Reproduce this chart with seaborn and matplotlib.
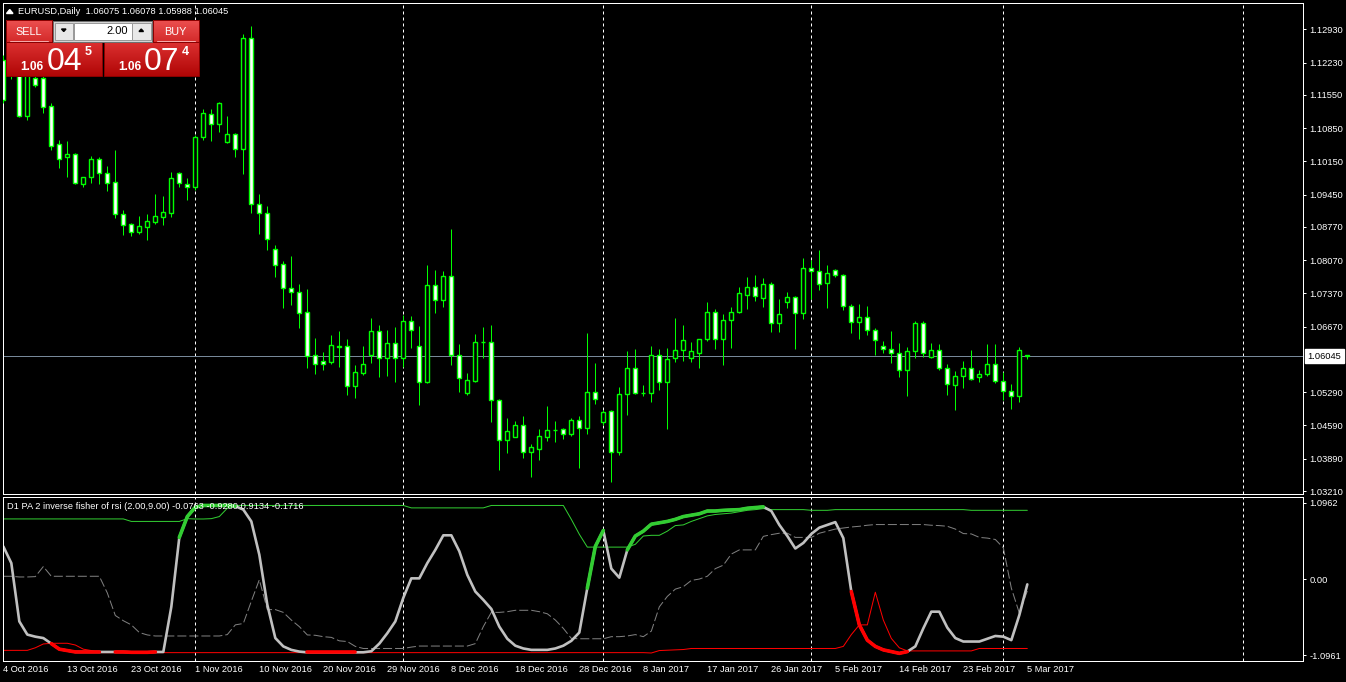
import numpy as np
import matplotlib
matplotlib.use("Agg")
import matplotlib.pyplot as plt
import seaborn as sns
from matplotlib.patches import Rectangle, Polygon
from matplotlib.colors import LinearSegmentedColormap

# ---------------------------------------------------------------------------
# Data (EURUSD daily bars)
# ---------------------------------------------------------------------------
OPEN = [1.1228, 1.1270, 1.1216, 1.1111, 1.1190, 1.1190, 1.1132, 1.1051, 1.1024, 1.1031,
        1.0967, 1.0983, 1.1019, 1.0990, 1.0971, 1.0904, 1.0883, 1.0867, 1.0877, 1.0888,
        1.0898, 1.0907, 1.0990, 1.0967, 1.0960, 1.1066, 1.1114, 1.1093, 1.1055, 1.1072,
        1.1040, 1.1274, 1.0925, 1.0906, 1.0830, 1.0798, 1.0748, 1.0741, 1.0697, 1.0607,
        1.0594, 1.0593, 1.0626, 1.0626, 1.0543, 1.0569, 1.0608, 1.0657, 1.0600, 1.0632,
        1.0602, 1.0678, 1.0626, 1.0551, 1.0754, 1.0723, 1.0773, 1.0607, 1.0528, 1.0553,
        1.0635, 1.0634, 1.0512, 1.0429, 1.0435, 1.0461, 1.0403, 1.0410, 1.0435, 1.0450,
        1.0451, 1.0440, 1.0470, 1.0454, 1.0529, 1.0466, 1.0489, 1.0403, 1.0525, 1.0579,
        1.0528, 1.0527, 1.0607, 1.0550, 1.0600, 1.0617, 1.0600, 1.0612, 1.0640, 1.0697,
        1.0640, 1.0680, 1.0697, 1.0734, 1.0750, 1.0728, 1.0756, 1.0674, 1.0718, 1.0729,
        1.0695, 1.0790, 1.0784, 1.0758, 1.0786, 1.0775, 1.0710, 1.0676, 1.0687, 1.0661,
        1.0626, 1.0621, 1.0611, 1.0575, 1.0615, 1.0674, 1.0604, 1.0617, 1.0581, 1.0544,
        1.0563, 1.0579, 1.0560, 1.0567, 1.0588, 1.0552, 1.0531, 1.0520, 1.06075]
HIGH = [1.1239, 1.1281, 1.1228, 1.1207, 1.1203, 1.1195, 1.1138, 1.1060, 1.1058, 1.1033,
        1.0983, 1.1026, 1.1024, 1.1005, 1.1039, 1.0913, 1.0886, 1.0900, 1.0904, 1.0946,
        1.0942, 1.0992, 1.0993, 1.0981, 1.1070, 1.1125, 1.1125, 1.1141, 1.1111, 1.1075,
        1.1283, 1.1300, 1.0946, 1.0920, 1.0839, 1.0805, 1.0816, 1.0757, 1.0746, 1.0644,
        1.0614, 1.0649, 1.0658, 1.0642, 1.0586, 1.0626, 1.0685, 1.0670, 1.0660, 1.0666,
        1.0691, 1.0689, 1.0668, 1.0797, 1.0786, 1.0784, 1.0873, 1.0630, 1.0569, 1.0651,
        1.0666, 1.0670, 1.0515, 1.0474, 1.0469, 1.0479, 1.0420, 1.0452, 1.0500, 1.0468,
        1.0454, 1.0474, 1.0479, 1.0653, 1.0591, 1.0492, 1.0492, 1.0540, 1.0616, 1.0619,
        1.0544, 1.0626, 1.0620, 1.0622, 1.0685, 1.0670, 1.0635, 1.0642, 1.0719, 1.0704,
        1.0694, 1.0708, 1.0750, 1.0772, 1.0776, 1.0769, 1.0760, 1.0725, 1.0740, 1.0731,
        1.0812, 1.0807, 1.0828, 1.0797, 1.0788, 1.0777, 1.0715, 1.0715, 1.0711, 1.0664,
        1.0636, 1.0658, 1.0633, 1.0624, 1.0679, 1.0679, 1.0633, 1.0630, 1.0588, 1.0574,
        1.0595, 1.0618, 1.0576, 1.0630, 1.0630, 1.0572, 1.0546, 1.0624, 1.06078]
LOW = [1.1138, 1.1188, 1.1108, 1.1102, 1.1172, 1.1117, 1.1039, 1.1000, 1.0983, 1.0967,
       1.0962, 1.0970, 1.0968, 1.0953, 1.0895, 1.0859, 1.0858, 1.0863, 1.0849, 1.0883,
       1.0881, 1.0898, 1.0960, 1.0934, 1.0955, 1.1060, 1.1058, 1.1077, 1.1054, 1.1025,
       1.0988, 1.0906, 1.0862, 1.0828, 1.0772, 1.0707, 1.0713, 1.0665, 1.0581, 1.0568,
       1.0576, 1.0588, 1.0583, 1.0523, 1.0517, 1.0565, 1.0591, 1.0562, 1.0563, 1.0551,
       1.0583, 1.0622, 1.0502, 1.0549, 1.0696, 1.0709, 1.0587, 1.0530, 1.0524, 1.0551,
       1.0602, 1.0467, 1.0366, 1.0400, 1.0434, 1.0391, 1.0351, 1.0387, 1.0427, 1.0425,
       1.0431, 1.0437, 1.0370, 1.0442, 1.0505, 1.0460, 1.0339, 1.0397, 1.0481, 1.0525,
       1.0520, 1.0509, 1.0534, 1.0452, 1.0593, 1.0595, 1.0593, 1.0579, 1.0637, 1.0621,
       1.0587, 1.0623, 1.0696, 1.0705, 1.0720, 1.0709, 1.0656, 1.0656, 1.0707, 1.0619,
       1.0684, 1.0726, 1.0745, 1.0707, 1.0771, 1.0703, 1.0654, 1.0640, 1.0649, 1.0607,
       1.0611, 1.0590, 1.0560, 1.0520, 1.0600, 1.0604, 1.0602, 1.0576, 1.0524, 1.0492,
       1.0537, 1.0555, 1.0551, 1.0563, 1.0548, 1.0512, 1.0494, 1.0509, 1.05988]
CLOSE = [1.1144, 1.1199, 1.1111, 1.1199, 1.1176, 1.1130, 1.1048, 1.1021, 1.1031, 1.0969,
         1.0982, 1.1019, 1.0990, 1.0970, 1.0904, 1.0880, 1.0867, 1.0878, 1.0889, 1.0899,
         1.0908, 1.0981, 1.0969, 1.0960, 1.1066, 1.1116, 1.1093, 1.1137, 1.1072, 1.1040,
         1.1274, 1.0925, 1.0906, 1.0851, 1.0796, 1.0748, 1.0739, 1.0696, 1.0606, 1.0588,
         1.0589, 1.0628, 1.0625, 1.0543, 1.0571, 1.0588, 1.0657, 1.0600, 1.0632, 1.0602,
         1.0678, 1.0661, 1.0551, 1.0754, 1.0723, 1.0773, 1.0607, 1.0558, 1.0554, 1.0634,
         1.0634, 1.0512, 1.0428, 1.0447, 1.0461, 1.0403, 1.0413, 1.0436, 1.0449, 1.0449,
         1.0440, 1.0470, 1.0454, 1.0529, 1.0514, 1.0487, 1.0403, 1.0525, 1.0579, 1.0527,
         1.0527, 1.0607, 1.0550, 1.0598, 1.0617, 1.0638, 1.0615, 1.0640, 1.0697, 1.0640,
         1.0680, 1.0697, 1.0737, 1.0750, 1.0731, 1.0756, 1.0674, 1.0693, 1.0729, 1.0695,
         1.0790, 1.0784, 1.0756, 1.0779, 1.0775, 1.0710, 1.0676, 1.0687, 1.0661, 1.0638,
         1.0621, 1.0611, 1.0575, 1.0615, 1.0674, 1.0611, 1.0617, 1.0581, 1.0546, 1.0563,
         1.0581, 1.0556, 1.0567, 1.0588, 1.0552, 1.0531, 1.0520, 1.0617, 1.06045]
BID = 1.06045

# Indicator buffers (inverse fisher of rsi)
MAIN = [0.47, 0.23, -0.61, -0.80, -0.83, -0.85, -0.93, -1.01, -1.03, -1.05,
        -1.05, -1.05, -1.05, -1.05, -1.05, -1.05, -1.055, -1.055, -1.055, -1.05,
        -1.05, -0.40, 0.60, 0.90, 1.035, 1.06, 1.06, 1.06, 1.06, 1.05,
        1.00, 0.83, 0.35, -0.37, -0.85, -0.97, -1.02, -1.045, -1.055, -1.055,
        -1.055, -1.055, -1.055, -1.055, -1.055, -1.055, -1.04, -0.93, -0.78, -0.61,
        -0.27, 0.01, 0.01, 0.23, 0.42, 0.63, 0.63, 0.40, 0.06, -0.18,
        -0.30, -0.43, -0.685, -0.86, -0.96, -1.00, -1.02, -1.02, -1.02, -1.00,
        -0.96, -0.89, -0.77, -0.13, 0.47, 0.70, 0.15, 0.02, 0.42, 0.62,
        0.69, 0.79, 0.81, 0.83, 0.86, 0.90, 0.92, 0.94, 0.98, 0.98,
        0.99, 0.995, 1.00, 1.02, 1.03, 1.04, 0.98, 0.78, 0.62, 0.44,
        0.52, 0.65, 0.74, 0.78, 0.82, 0.59, -0.18, -0.66, -0.88, -0.97,
        -1.02, -1.045, -1.07, -1.045, -0.97, -0.71, -0.47, -0.47, -0.70, -0.85,
        -0.90, -0.90, -0.90, -0.86, -0.82, -0.83, -0.88, -0.52, -0.0763]
UPPER = [0.866] * 16 + [0.83] * 7 + [0.87, 0.865, 0.865, 0.87, 0.90, 1.02] + \
        [1.06] * 22 + [1.025] * 10 + [1.06] * 10 + [0.86, 0.645] + [0.46] * 6 + \
        [0.50, 0.62, 0.63, 0.63, 0.69, 0.77, 0.78, 0.83, 0.87, 0.91,
         0.93, 0.94, 0.95, 0.97, 0.99, 1.00, 1.015] + [1.00] * 5 + [0.99] * 3 + \
        [1.00] * 17 + [0.99] * 8
LOWER = [-1.027] * 4 + [-0.99, -0.935, -0.925, -0.925, -0.925, -0.95, -1.01, -1.03] + \
        [-1.06] * 69 + [-1.065, -1.03, -1.025, -1.02, -1.015] + [-1.0] * 19 + \
        [-0.97, -0.80, -0.66, -0.66, -0.19, -0.59, -0.855, -0.99] + [-1.035] * 9 + [-1.0] * 7
SIGNAL = [0.04, 0.04, 0.03, 0.03, 0.035, 0.18, 0.04, 0.04, 0.04, 0.04,
          0.04, 0.04, 0.04, -0.20, -0.525, -0.60, -0.66, -0.77, -0.805, -0.82,
          -0.82, -0.82, -0.82, -0.82, -0.82, -0.82, -0.82, -0.82, -0.80, -0.66,
          -0.64, -0.32, -0.01, -0.44, -0.44, -0.48, -0.59, -0.685, -0.805, -0.81,
          -0.83, -0.84, -0.89, -0.90, -0.97, -1.0, -1.0, -1.0, -1.0, -1.0,
          -1.0, -0.98, -0.965, -0.965, -0.965, -0.965, -0.965, -0.965, -0.965, -0.93,
          -0.685, -0.48, -0.48, -0.47, -0.45, -0.45, -0.45, -0.47, -0.50, -0.59,
          -0.71, -0.855, -0.86, -0.86, -0.86, -0.86, -0.83, -0.83, -0.82, -0.80,
          -0.83, -0.75, -0.40, -0.25, -0.145, -0.11, -0.02, 0.0, 0.04, 0.15,
          0.20, 0.36, 0.42, 0.42, 0.42, 0.615, 0.64, 0.66, 0.66, 0.60,
          0.60, 0.60, 0.66, 0.69, 0.72, 0.735, 0.75, 0.76, 0.775, 0.785,
          0.785, 0.785, 0.785, 0.785, 0.785, 0.785, 0.775, 0.77, 0.76, 0.72,
          0.655, 0.65, 0.60, 0.59, 0.57, 0.45, -0.13, -0.49, -0.1716]
GREEN_SPANS = [(22, 29), (73, 75), (78, 95)]
RED_SPANS = [(6, 12), (14, 19), (38, 44), (106, 113)]

PRICE_TICKS = [1.12930, 1.12230, 1.11550, 1.10850, 1.10150, 1.09450, 1.08770,
               1.08070, 1.07370, 1.06670, 1.05290, 1.04590, 1.03890, 1.03210]
PRICE_LABELS = ["1.12930", "1.12230", "1.11550", "1.10850", "1.10150", "1.09450", "1.08770",
                "1.08070", "1.07370", "1.06670", "1.05290", "1.04590", "1.03890", "1.03210"]
IND_TICKS = [1.0962, 0.0, -1.0961]
IND_LABELS = ["1.0962", "0.00", "-1.0961"]
DATE_BARS = [0, 8, 16, 24, 32, 40, 48, 56, 64, 72, 80, 88, 96, 104, 112, 120, 128]
DATE_LABELS = ["4 Oct 2016", "13 Oct 2016", "23 Oct 2016", "1 Nov 2016", "10 Nov 2016",
               "20 Nov 2016", "29 Nov 2016", "8 Dec 2016", "18 Dec 2016", "28 Dec 2016",
               "8 Jan 2017", "17 Jan 2017", "26 Jan 2017", "5 Feb 2017", "14 Feb 2017",
               "23 Feb 2017", "5 Mar 2017"]
SEPARATORS = [24, 50, 75, 101, 125, 155]

# ---------------------------------------------------------------------------
sns.set_style("dark", rc={"axes.facecolor": "black", "figure.facecolor": "black"})
plt.rcParams["font.family"] = ["Liberation Sans", "DejaVu Sans"]

W, H = 1346, 682
PX = 0.72          # one pixel in points
LIME = "#00FF00"
FS = 6.7


def frac(x0, y0, x1, y1):
    return [x0 / W, 1 - y1 / H, (x1 - x0) / W, (y1 - y0) / H]


fig = plt.figure(figsize=(W / 100, H / 100), dpi=100)
fig.patch.set_facecolor("black")
ax = fig.add_axes(frac(3, 2.7, 1303, 494))
ax2 = fig.add_axes(frac(3, 496.5, 1303, 660.7))

XLIM = (-0.04, 162.46)

# --- candles ---------------------------------------------------------------
bars = np.arange(len(OPEN))
o, h, l, c = (np.array(v) for v in (OPEN, HIGH, LOW, CLOSE))
fills = ["black" if cc >= oo else "white" for oo, cc in zip(o, c)]
ax.vlines(bars, l, h, color=LIME, lw=PX, zorder=3)
ax.bar(bars, np.abs(c - o), bottom=np.minimum(o, c), width=0.5, color=fills,
       edgecolor=LIME, linewidth=1.0, zorder=4)
ax.axhline(BID, color="#778899", lw=PX, zorder=2)

for a in (ax, ax2):
    for s in SEPARATORS:
        a.axvline(s, color="white", lw=PX, ls=(0, (3, 3)), zorder=1)
    a.set_facecolor("black")
    a.grid(False)
    a.set_xlim(*XLIM)
    for sp in a.spines.values():
        sp.set_visible(True)
        sp.set_color("white")
        sp.set_linewidth(PX)
    a.yaxis.tick_right()
    a.tick_params(axis="y", colors="white", labelcolor="white", labelsize=FS,
                  length=2.2, width=PX, pad=2.5, direction="out", right=True, left=False)

ax.set_ylim(1.03147, 1.13490)
ax.set_yticks(PRICE_TICKS)
ax.set_yticklabels(PRICE_LABELS)
ax.set_xticks([])
ax.text(1 + 4.5 / 1300, BID, "1.06045", transform=ax.get_yaxis_transform(),
        fontsize=FS, color="black", va="center", ha="left", clip_on=False, zorder=20,
        bbox=dict(boxstyle="square,pad=0.28", fc="white", ec="white"))
ax.text(15 / 1300, 1 - (14 - 2.7) / 491.3, "EURUSD,Daily  1.06075 1.06078 1.05988 1.06045",
        transform=ax.transAxes, color="white", fontsize=FS, va="baseline", ha="left")

# --- indicator -------------------------------------------------------------
sns.lineplot(x=bars, y=UPPER, ax=ax2, color="#32CD32", lw=PX, estimator=None, legend=False)
sns.lineplot(x=bars, y=LOWER, ax=ax2, color="#FF0000", lw=PX, estimator=None, legend=False)
sns.lineplot(x=bars, y=SIGNAL, ax=ax2, color="#808080", lw=PX, ls=(0, (9, 3)),
             estimator=None, legend=False)
sns.lineplot(x=bars, y=MAIN, ax=ax2, color="#C0C0C0", lw=1.9, estimator=None, legend=False)
main = np.array(MAIN)
for s, e in GREEN_SPANS:
    sns.lineplot(x=bars[s:e + 1], y=main[s:e + 1], ax=ax2, color="#32CD32", lw=2.6,
                 estimator=None, legend=False)
for s, e in RED_SPANS:
    sns.lineplot(x=bars[s:e + 1], y=main[s:e + 1], ax=ax2, color="#FF0000", lw=2.6,
                 estimator=None, legend=False)

ax2.set_ylim(-1.176, 1.189)
ax2.set_yticks(IND_TICKS)
ax2.set_yticklabels(IND_LABELS)
ax2.set_xticks(DATE_BARS)
ax2.set_xticklabels(DATE_LABELS)
ax2.tick_params(axis="x", colors="white", labelcolor="white", labelsize=FS, length=0, pad=3.2)
plt.setp(ax2.get_xticklabels(), ha="left")
ax2.set_xlabel("")
ax2.set_ylabel("")
ax2.text(4.3 / 1300, 1 - (509 - 496.5) / 164.2,
         "D1 PA 2 inverse fisher of rsi (2.00,9.00) -0.0763 -0.9280 0.9134 -0.1716",
         transform=ax2.transAxes, color="white", fontsize=FS, va="baseline", ha="left")

# --- one-click trading widget (pixel overlay) ------------------------------
ov = fig.add_axes([0, 0, 1, 1])
ov.set_zorder(10)
ov.patch.set_alpha(0)
ov.axis("off")


def grad_box(x0, y0, x1, y1, top, bot):
    cmap = LinearSegmentedColormap.from_list("g", [top, bot])
    ov.imshow(np.linspace(0, 1, 64).reshape(-1, 1), cmap=cmap, extent=(x0, x1, y1, y0),
              aspect="auto", interpolation="bilinear", zorder=1)
    ov.add_patch(Rectangle((x0, y0), x1 - x0, y1 - y0, fill=False, ec="#8A0000",
                           lw=PX, zorder=2))


grad_box(6, 20, 51.5, 42, "#EC5050", "#D42A2A")
grad_box(153, 20, 199, 42, "#EC5050", "#D42A2A")
grad_box(6, 42, 102, 76, "#DC3030", "#B00606")
grad_box(104, 42, 199, 76, "#DC3030", "#B00606")
ov.plot([10, 48], [41.3, 41.3], color="#F6A8A8", lw=PX, zorder=3)
ov.plot([157, 195], [41.3, 41.3], color="#F6A8A8", lw=PX, zorder=3)

ov.add_patch(Rectangle((53, 20.5), 99, 21, fc="#D4D4D4", ec="#6E6E6E", lw=PX, zorder=2))
ov.add_patch(Rectangle((55, 22.5), 18, 17, fc="#E8E8E8", ec="#9A9A9A", lw=PX, zorder=3))
ov.add_patch(Rectangle((74, 22.5), 57.5, 17, fc="white", ec="#9A9A9A", lw=PX, zorder=3))
ov.add_patch(Rectangle((132, 22.5), 18.5, 17, fc="#E8E8E8", ec="#9A9A9A", lw=PX, zorder=3))
ov.add_patch(Polygon([(61.5, 29), (66, 29), (63.75, 31.5)], color="black", zorder=4))
ov.add_patch(Polygon([(139, 31.5), (143.5, 31.5), (141.25, 29)], color="black", zorder=4))
ov.add_patch(Polygon([(6.5, 13.5), (13, 13.5), (9.75, 9.5)], color="white", zorder=4))

txt = dict(color="white", zorder=5, va="baseline")
ov.text(28.5, 35, "SELL", ha="center", fontsize=7.8, **txt)
ov.text(175.5, 35, "BUY", ha="center", fontsize=7.8, **txt)
ov.text(127.5, 34, "2.00", ha="right", fontsize=8, color="black", zorder=5, va="baseline")
ov.text(32.3, 69.5, "1.06", ha="center", fontsize=8.6, fontweight="bold", **txt)
ov.text(65, 70, "04", ha="center", fontsize=23, **txt)
ov.text(88.5, 55, "5", ha="center", fontsize=9, fontweight="bold", **txt)
ov.text(130.3, 69.5, "1.06", ha="center", fontsize=8.6, fontweight="bold", **txt)
ov.text(161.7, 70, "07", ha="center", fontsize=23, **txt)
ov.text(185.5, 55, "4", ha="center", fontsize=9, fontweight="bold", **txt)
ov.set_xlim(0, W)
ov.set_ylim(H, 0)

fig.savefig("out.png", dpi=100, facecolor=fig.get_facecolor())
plt.close(fig)
